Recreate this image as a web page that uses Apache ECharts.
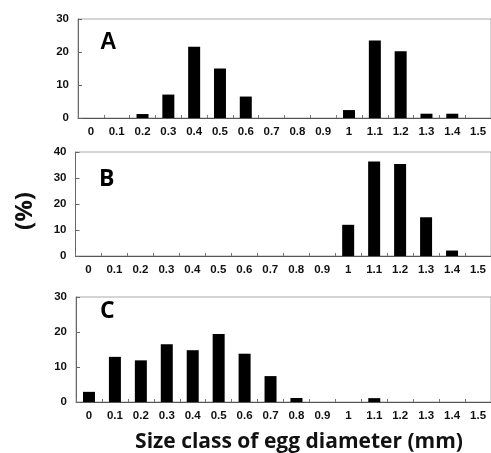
<!DOCTYPE html>
<html>
<head>
<meta charset="utf-8">
<script src="https://cdn.jsdelivr.net/npm/echarts@6/dist/echarts.min.js"></script>
<style>
  html, body { margin: 0; padding: 0; background: #fff; }
  #chart { width: 491px; height: 453px; }
</style>
</head>
<body>
<div id="chart"></div>
<script>
const categories = ['0','0.1','0.2','0.3','0.4','0.5','0.6','0.7','0.8','0.9','1','1.1','1.2','1.3','1.4','1.5'];
const valuesA = [0, 0, 1.2, 7.1, 21.6, 15.0, 6.5, 0, 0, 0, 2.4, 23.5, 20.2, 1.3, 1.3, 0];
const valuesB = [0, 0, 0, 0, 0, 0, 0, 0, 0, 0, 12.0, 36.3, 35.4, 14.9, 2.1, 0];
const valuesC = [2.9, 12.9, 11.9, 16.5, 14.8, 19.4, 13.8, 7.4, 1.15, 0, 0, 1.1, 0, 0, 0, 0];
const panelLabels = ['A', 'B', 'C'];
const yMax = [30, 40, 30];
const yInterval = [10, 10, 10];
const xTitle = 'Size class of egg diameter (mm)';
const yTitle = '(%)';

const grids = [
  { left: 78, top: 19, width: 419, height: 99 },
  { left: 75.5, top: 152, width: 420, height: 104 },
  { left: 76, top: 297, width: 419, height: 105 }
];
const seriesData = [valuesA, valuesB, valuesC];
const labelFont = 'Liberation Sans, Arial, sans-serif';

const option = {
  animation: false,
  backgroundColor: '#fff',
  grid: grids.map(g => Object.assign({ show: true, borderColor: '#aaa', borderWidth: 1, backgroundColor: 'transparent' }, g)),
  xAxis: grids.map((g, i) => ({
    type: 'category',
    gridIndex: i,
    data: categories,
    axisLine: { lineStyle: { color: '#555', width: 1 } },
    axisTick: { show: true, inside: true, length: 3, lineStyle: { color: '#777' } },
    axisLabel: { interval: 0, fontSize: 11.5, fontWeight: 'bold', color: '#111', margin: 8, fontFamily: labelFont }
  })),
  yAxis: grids.map((g, i) => ({
    type: 'value',
    gridIndex: i,
    min: 0,
    max: yMax[i],
    interval: yInterval[i],
    splitLine: { show: false },
    axisLine: { show: true, lineStyle: { color: '#666', width: 1 } },
    axisTick: { show: true, inside: true, length: 4, lineStyle: { color: '#666' } },
    axisLabel: { fontSize: 11.5, fontWeight: 'bold', color: '#111', margin: 9, fontFamily: labelFont }
  })),
  series: seriesData.map((d, i) => ({
    type: 'bar',
    xAxisIndex: i,
    yAxisIndex: i,
    data: d,
    barWidth: 12,
    itemStyle: { color: '#000' }
  })),
  graphic: [
    { type: 'text', left: 100, top: 31, style: { text: panelLabels[0], font: 'bold 23px Liberation Sans, Arial, sans-serif', fill: '#000' } },
    { type: 'text', left: 99, top: 168, style: { text: panelLabels[1], font: 'bold 23px Open Sans, sans-serif', fill: '#000' } },
    { type: 'text', left: 100, top: 300, style: { text: panelLabels[2], font: 'bold 23px Open Sans, sans-serif', fill: '#000' } },
    { type: 'text', x: 299, y: 442, style: { text: xTitle, font: 'bold 21px Open Sans, sans-serif', fill: '#111', align: 'center', verticalAlign: 'middle' } },
    { type: 'text', x: 25, y: 211, rotation: Math.PI / 2, style: { text: yTitle, font: 'bold 24px Open Sans, sans-serif', fill: '#111', align: 'center', verticalAlign: 'middle' } }
  ]
};

const chart = echarts.init(document.getElementById('chart'), null, { renderer: 'canvas' });
chart.setOption(option);
</script>
</body>
</html>
